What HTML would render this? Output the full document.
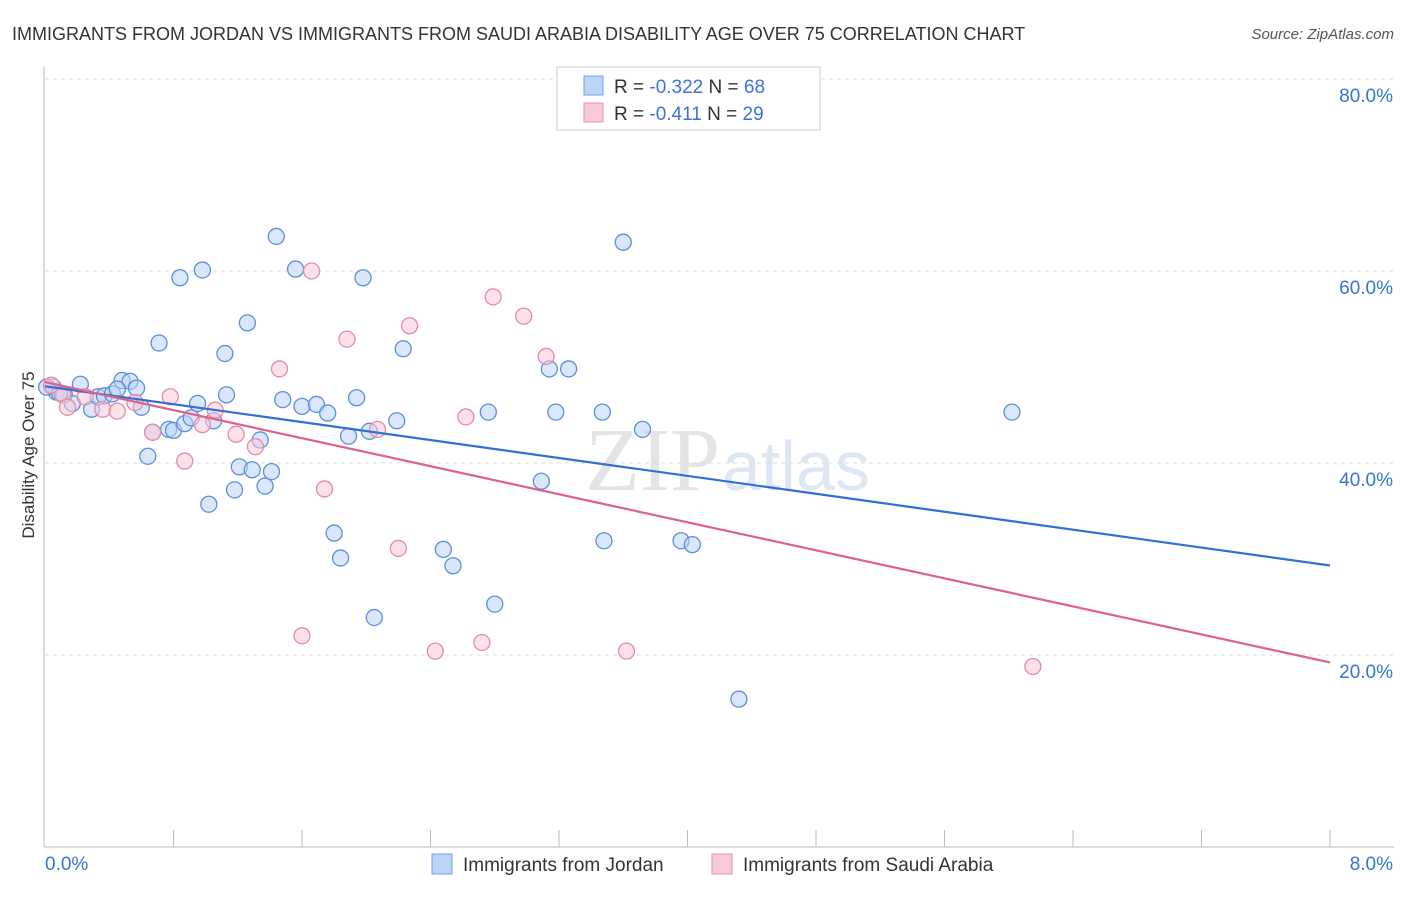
<!DOCTYPE html>
<html><head><meta charset="utf-8"><style>
body{margin:0;background:#fff;font-family:"Liberation Sans",sans-serif}
</style></head><body>
<svg id="c" width="1406" height="892" xmlns="http://www.w3.org/2000/svg">
<text x="12" y="40" font-size="18" fill="#333">IMMIGRANTS FROM JORDAN VS IMMIGRANTS FROM SAUDI ARABIA DISABILITY AGE OVER 75 CORRELATION CHART</text>
<text x="1394" y="39" font-size="15" fill="#555" font-style="italic" text-anchor="end">Source: ZipAtlas.com</text>
<text x="720" y="490" font-size="90" fill="#e4e4e4" font-family="Liberation Serif" text-anchor="end">ZIP</text>
<text x="722" y="490" font-size="70" fill="#dde6f3">atlas</text>
<g id="grid"></g><g id="marks"></g>
<text transform="translate(34,455) rotate(-90)" font-size="17" fill="#333" text-anchor="middle">Disability Age Over 75</text>
<g>
<rect x="557" y="67" width="263" height="63" fill="#fff" stroke="#ccc"/>
<rect x="584" y="76" width="19" height="19" fill="#bcd4f7" stroke="#6f9fe3"/>
<rect x="584" y="103" width="19" height="19" fill="#f9c9d7" stroke="#e995b0"/>
<text x="614" y="93" font-size="19" fill="#333">R = <tspan fill="#3b72d8">-0.322</tspan>   N = <tspan fill="#3b72d8">68</tspan></text>
<text x="614" y="120" font-size="19" fill="#333">R =  <tspan fill="#3b72d8">-0.411</tspan>   N = <tspan fill="#3b72d8">29</tspan></text>
</g>
<g>
<rect x="432" y="854" width="20" height="20" fill="#bcd4f7" stroke="#6f9fe3"/>
<text x="463" y="871" font-size="19" fill="#333">Immigrants from Jordan</text>
<rect x="712" y="854" width="20" height="20" fill="#f9c9d7" stroke="#e995b0"/>
<text x="743" y="871" font-size="19" fill="#333">Immigrants from Saudi Arabia</text>
</g>
</svg>
<script>
const yTicks=[20,40,60,80];
const yTickLabels=["20.0%","40.0%","60.0%","80.0%"];
const blueX=[0.05,0.07,0.12,0.17,0.22,0.29,0.33,0.37,0.42,0.48,0.53,0.57,0.60,0.64,0.67,0.71,0.77,0.80,0.84,0.87,0.91,0.95,0.98,1.02,1.05,1.12,1.13,1.18,1.21,1.26,1.29,1.34,1.37,1.41,1.44,1.48,1.56,1.60,1.69,1.76,1.80,1.84,1.89,1.94,1.98,2.02,2.05,2.19,2.23,2.48,2.54,2.76,2.80,3.09,3.14,3.18,3.26,3.47,3.48,3.60,3.72,3.96,4.03,4.32,6.02,0.01,0.09,0.45];
const blueY=[47.9,47.4,47.1,46.2,48.2,45.6,46.9,47.0,47.2,48.6,48.5,47.8,45.8,40.7,43.2,52.5,43.5,43.4,59.3,44.1,44.7,46.2,60.1,35.7,44.4,51.4,47.1,37.2,39.6,54.6,39.3,42.4,37.6,39.1,63.6,46.6,60.2,45.9,46.1,45.2,32.7,30.1,42.8,46.8,59.3,43.3,23.9,44.4,51.9,31.0,29.3,45.3,25.3,38.1,49.8,45.3,49.8,45.3,31.9,63.0,43.5,31.9,31.5,15.4,45.3,47.9,47.3,47.7];
const pinkX=[0.04,0.11,0.14,0.25,0.36,0.45,0.56,0.67,0.78,0.87,0.98,1.06,1.19,1.31,1.46,1.60,1.66,1.74,1.88,2.07,2.20,2.27,2.43,2.62,2.72,2.79,2.98,3.12,3.62,6.15];
const pinkY=[48.1,47.1,45.8,46.9,45.6,45.4,46.3,43.2,46.9,40.2,44.0,45.5,43.0,41.7,49.8,22.0,60.0,37.3,52.9,43.5,31.1,54.3,20.4,44.8,21.3,57.3,55.3,51.1,20.4,18.8];
const X0=45,X1=1330,Y0=847,YS=768/80;
const sx=v=>X0+v/8*(X1-X0), sy=v=>Y0-v*YS;
const NS="http://www.w3.org/2000/svg";
function mk(t,a,p){const e=document.createElementNS(NS,t);for(const k in a)e.setAttribute(k,a[k]);p.appendChild(e);return e;}
const g=document.getElementById('grid'),m=document.getElementById('marks');
mk('line',{x1:44,y1:67,x2:44,y2:847,stroke:'#bbb'},g);
mk('line',{x1:44,y1:847,x2:1394,y2:847,stroke:'#bbb'},g);
for(let i=0;i<yTicks.length;i++){
 const y=sy(yTicks[i]);
 const l=mk('line',{x1:45,y1:y,x2:1394,y2:y,stroke:'#ddd','stroke-dasharray':'4,4'},g);
 
 
 const t=mk('text',{x:1393,y:y+23,'font-size':19,fill:'#3b72d8','text-anchor':'end'},g);
 t.textContent=yTickLabels[i];
 
 
}
const y80=sy(80);mk('line',{x1:45,y1:y80,x2:1394,y2:y80,stroke:'#ddd','stroke-dasharray':'4,4'},g);
for(let i=1;i<=10;i++){const x=X0+i*(X1-X0)/10;mk('line',{x1:x,y1:830,x2:x,y2:847,stroke:'#bbb'},g);}
let t0=mk('text',{x:45,y:870,'font-size':19,fill:'#3b72d8'},g);t0.textContent='0.0%';


let t1=mk('text',{x:1393,y:870,'font-size':19,fill:'#3b72d8','text-anchor':'end'},g);t1.textContent='8.0%';


function pts(X,Y,fill,stroke,name){for(let i=0;i<X.length;i++){const c=mk('circle',{cx:sx(X[i]),cy:sy(Y[i]),r:8,fill:fill,'fill-opacity':0.55,stroke:stroke,'stroke-width':1.3},m);
 
 }}
pts(blueX,blueY,'#bcd4f7','#5b8fdc','jordan-point');
pts(pinkX,pinkY,'#f9c9d7','#e68aa8','saudi-point');
function fit(X,Y){const n=X.length;let mx=0,my=0;for(let i=0;i<n;i++){mx+=X[i];my+=Y[i];}mx/=n;my/=n;let a=0,b=0;for(let i=0;i<n;i++){a+=(X[i]-mx)*(Y[i]-my);b+=(X[i]-mx)**2;}const s=a/b;return [my-s*mx,s];}
function tl(X,Y,col,name){const [c,s]=fit(X,Y);const l=mk('line',{x1:sx(0),y1:sy(c),x2:sx(8),y2:sy(c+8*s),stroke:col,'stroke-width':2.2},m);
 
 }
tl(blueX,blueY,'#2f6fd6','jordan-trend-line');
tl(pinkX,pinkY,'#e0608a','saudi-trend-line');
</script>
</body></html>
